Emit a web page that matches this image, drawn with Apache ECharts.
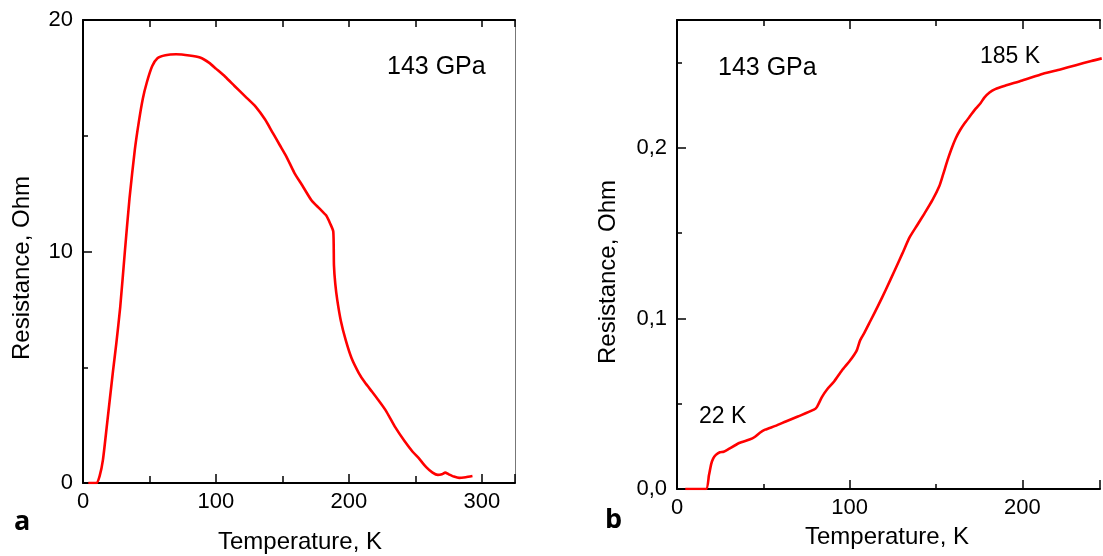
<!DOCTYPE html>
<html><head><meta charset="utf-8">
<script src="https://cdn.jsdelivr.net/npm/echarts@6/dist/echarts.min.js"></script>
<style>html,body{margin:0;padding:0;background:#fff}#c{width:1103px;height:556px}</style>
</head><body><div id="c"></div>
<script>
// Panel a: resistance vs temperature
const leftT = [4, 10, 12.5, 15, 18, 22.5, 25, 28, 31.5, 35, 39, 42, 45, 48, 52, 56, 62, 70, 80, 88, 95, 100, 107, 114, 122, 130, 137, 143, 148, 153, 159, 165, 172, 178, 183, 186, 188.3, 188.8, 189.8, 191.3, 194, 197.6, 202, 207.6, 212, 217.5, 222, 227.6, 235, 242, 248, 252.6, 258, 263, 267, 270, 272.5, 275, 279, 283, 288, 293];
const leftR = [0, 0, 0.3, 1.0, 2.5, 4.8, 6.0, 7.6, 10.0, 12.3, 14.4, 15.6, 16.6, 17.3, 18.0, 18.35, 18.48, 18.52, 18.47, 18.38, 18.15, 17.9, 17.55, 17.15, 16.7, 16.25, 15.7, 15.1, 14.6, 14.1, 13.4, 12.85, 12.2, 11.85, 11.55, 11.2, 10.86, 9.4, 8.6, 7.9, 7.0, 6.18, 5.4, 4.74, 4.35, 3.94, 3.6, 3.15, 2.4, 1.8, 1.35, 1.07, 0.7, 0.45, 0.35, 0.38, 0.45, 0.38, 0.28, 0.22, 0.25, 0.3];
// Panel b
const rightT = [4.8, 16.8, 18.5, 19.8, 21, 22.5, 24.8, 27, 30, 36, 42, 45, 48, 51, 57, 63, 70, 79.3, 81, 84, 87, 91, 95.5, 100, 104, 106, 108.5, 112, 116.5, 121, 126, 130.5, 134.7, 139, 143.3, 148, 151.9, 154, 156.6, 159, 161.4, 164, 167, 170, 173, 176, 178, 181, 184.3, 190, 200, 212, 222, 231, 240, 246];
const rightR = [0, 0, 0.008, 0.0146, 0.018, 0.020, 0.0215, 0.0218, 0.0235, 0.027, 0.029, 0.0305, 0.033, 0.0348, 0.037, 0.0396, 0.0425, 0.0465, 0.048, 0.054, 0.0585, 0.063, 0.0695, 0.075, 0.081, 0.087, 0.0915, 0.0985, 0.1075, 0.117, 0.128, 0.138, 0.1475, 0.1545, 0.1615, 0.1695, 0.1775, 0.184, 0.1925, 0.1995, 0.2055, 0.2105, 0.215, 0.219, 0.223, 0.2265, 0.2295, 0.2325, 0.2345, 0.2365, 0.2395, 0.2435, 0.246, 0.2485, 0.2510, 0.2525];

const leftXTickValues = [0, 100, 200, 300];
const leftXLabels = ['0', '100', '200', '300'];
const leftYTickValues = [0, 10, 20];
const leftYLabels = ['0', '10', '20'];
const rightXTickValues = [0, 100, 200];
const rightXLabels = ['0', '100', '200'];
const rightYTickValues = [0, 0.1, 0.2];
const rightYLabels = ['0,0', '0,1', '0,2'];

const FONT = "'Liberation Sans', Arial, sans-serif";
function lab(values, labels) {
  return function (v) {
    const i = values.findIndex(t => Math.abs(t - v) < 1e-9);
    return i >= 0 ? labels[i] : '';
  };
}
function ax(o) {
  const base = {
    type: 'value', splitLine: { show: false },
    axisLine: { show: o.line !== false, onZero: false, lineStyle: { color: o.lineColor || '#000', width: o.lineWidth || 2 } },
    axisTick: { show: o.tick !== false, inside: true, length: o.tickLen || 8, lineStyle: { color: '#000', width: 1.5 } },
    axisLabel: o.labels ? { show: true, formatter: lab(o.labels[0], o.labels[1]), color: '#000', fontSize: 22, fontFamily: FONT, margin: o.margin || 8 } : { show: false }
  };
  return Object.assign(base, o.extra);
}

const xAxis = [
  ax({ labels: [leftXTickValues, leftXLabels], tickLen: 9, extra: { gridIndex: 0, position: 'bottom', min: 0, max: 325, interval: 100 } }),
  ax({ line: false, tickLen: 7, extra: { gridIndex: 0, position: 'bottom', min: 0, max: 325, interval: 50 } }),
  ax({ tickLen: 7, extra: { gridIndex: 0, position: 'top', min: 0, max: 325, interval: 50 } }),
  ax({ labels: [rightXTickValues, rightXLabels], tickLen: 9, extra: { gridIndex: 1, position: 'bottom', min: 0, max: 245, interval: 100 } }),
  ax({ line: false, tickLen: 5, extra: { gridIndex: 1, position: 'bottom', min: 0, max: 245, interval: 50 } }),
  ax({ tickLen: 9, extra: { gridIndex: 1, position: 'top', min: 0, max: 245, interval: 100 } }),
  ax({ line: false, tickLen: 6, extra: { gridIndex: 1, position: 'top', min: 0, max: 245, interval: 50 } })
];
const yAxis = [
  ax({ labels: [leftYTickValues, leftYLabels], tickLen: 9, margin: 10, extra: { gridIndex: 0, position: 'left', min: 0, max: 20, interval: 10 } }),
  ax({ line: false, tickLen: 5, extra: { gridIndex: 0, position: 'left', min: 0, max: 20, interval: 5 } }),
  ax({ tick: false, lineColor: '#777', lineWidth: 1, extra: { gridIndex: 0, position: 'right', min: 0, max: 20, interval: 10 } }),
  ax({ labels: [rightYTickValues, rightYLabels], tickLen: 9, margin: 10, extra: { gridIndex: 1, position: 'left', min: 0, max: 0.275, interval: 0.1 } }),
  ax({ line: false, tickLen: 5, extra: { gridIndex: 1, position: 'left', min: 0, max: 0.275, interval: 0.05 } })
];

function txt(x, y, s, size) {
  return { type: 'text', x: x, y: y, style: { text: s, fill: '#000', font: size + 'px ' + FONT, textAlign: 'left', textVerticalAlign: 'middle' } };
}
const graphic = [
  { type: 'text', x: 300, y: 542, style: { text: 'Temperature, K', fill: '#000', font: '24px ' + FONT, textAlign: 'center', textVerticalAlign: 'middle' } },
  { type: 'text', x: 22, y: 268, rotation: Math.PI / 2, style: { text: 'Resistance, Ohm', fill: '#000', font: '24px ' + FONT, textAlign: 'center', textVerticalAlign: 'middle' } },
  { type: 'text', x: 887, y: 537, style: { text: 'Temperature, K', fill: '#000', font: '24px ' + FONT, textAlign: 'center', textVerticalAlign: 'middle' } },
  { type: 'text', x: 608, y: 272, rotation: Math.PI / 2, style: { text: 'Resistance, Ohm', fill: '#000', font: '24px ' + FONT, textAlign: 'center', textVerticalAlign: 'middle' } },
  txt(387, 67, '143 GPa', 25),
  txt(718, 68, '143 GPa', 25),
  txt(980, 57, '185 K', 23),
  txt(699, 417, '22 K', 23),
  { type: 'text', x: 14, y: 522, style: { text: 'a', fill: '#000', font: "bold 27px 'Open Sans', 'DejaVu Sans', sans-serif", textAlign: 'left', textVerticalAlign: 'middle' } },
  { type: 'text', x: 605, y: 520, style: { text: 'b', fill: '#000', font: "bold 27px 'Open Sans', 'DejaVu Sans', sans-serif", textAlign: 'left', textVerticalAlign: 'middle' } }
];

const chart = echarts.init(document.getElementById('c'), null, { renderer: 'canvas' });
chart.setOption({
  animation: false,
  backgroundColor: '#fff',
  grid: [
    { left: 83, top: 20, width: 432, height: 463 },
    { left: 677, top: 20, width: 426, height: 469 }
  ],
  xAxis: xAxis,
  yAxis: yAxis,
  graphic: graphic,
  series: [
    { type: 'line', xAxisIndex: 0, yAxisIndex: 0, data: leftT.map((t, i) => [t, leftR[i]]), showSymbol: false, smooth: 0.2, lineStyle: { color: '#ff0000', width: 2.6, join: 'round' } },
    { type: 'line', xAxisIndex: 3, yAxisIndex: 3, data: rightT.map((t, i) => [t, rightR[i]]), showSymbol: false, smooth: 0.2, lineStyle: { color: '#ff0000', width: 2.6, join: 'round' } }
  ]
});
</script></body></html>
